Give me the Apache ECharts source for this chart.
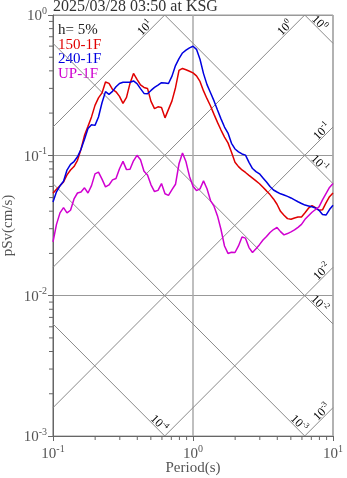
<!DOCTYPE html>
<html><head><meta charset="utf-8">
<script src="https://cdn.jsdelivr.net/npm/echarts@6/dist/echarts.min.js"></script>
<style>html,body{margin:0;padding:0;background:#fff}#c{width:347px;height:478px}</style>
</head><body><div id="c"></div>
<script>
const titleText = '2025/03/28 03:50 at KSG';
const dampingText = 'h= 5%';
const seriesNames = ['150-1F', '240-1F', 'UP-1F'];
const seriesColors = ['#e00000', '#0000e0', '#d000d0'];
const xAxisName = 'Period(s)';
const yAxisName = 'pSv(cm/s)';

const periods = [0.1,0.1059,0.1122,0.1189,0.1259,0.1334,0.1413,0.1496,0.1585,0.1679,
 0.1778,0.1884,0.1995,0.2113,0.2239,0.2371,0.2512,0.2661,0.2818,0.2985,
 0.3162,0.335,0.3548,0.3758,0.3981,0.4217,0.4467,0.4732,0.5012,0.5309,
 0.5623,0.5957,0.631,0.6683,0.7079,0.7499,0.7943,0.8414,0.8913,0.9441,
 1.0,1.059,1.122,1.189,1.259,1.334,1.413,1.496,1.585,1.679,
 1.778,1.884,1.995,2.113,2.239,2.371,2.512,2.661,2.818,2.985,
 3.162,3.35,3.548,3.758,3.981,4.217,4.467,4.732,5.012,5.309,
 5.623,5.957,6.31,6.683,7.079,7.499,7.943,8.414,8.913,9.441,10];

const sv150 = [0.0536,0.0573,0.0608,0.0646,0.0726,0.0786,0.0832,0.0921,0.1104,0.1388,
 0.1608,0.1879,0.2269,0.2566,0.2785,0.3334,0.3254,0.2949,0.2836,0.263,
 0.2345,0.2587,0.3254,0.3835,0.3474,0.3176,0.3048,0.2998,0.2423,0.215,
 0.2215,0.2196,0.1849,0.2126,0.2443,0.3033,0.4027,0.4161,0.4074,0.3974,
 0.3867,0.368,0.3362,0.2877,0.2533,0.2248,0.1958,0.1717,0.1514,0.1349,
 0.1227,0.105,0.0894,0.0831,0.0787,0.0755,0.072,0.0688,0.0657,0.0627,
 0.0592,0.0558,0.0525,0.0489,0.0448,0.0399,0.0374,0.0354,0.035,0.0358,
 0.0364,0.0364,0.039,0.042,0.0438,0.0424,0.0406,0.0409,0.0458,0.0507,0.0539];

const sv240 = [0.0465,0.055,0.0607,0.0653,0.0785,0.0863,0.0903,0.0976,0.1104,0.1304,
 0.1551,0.1651,0.1635,0.1876,0.2368,0.2845,0.2718,0.2854,0.3078,0.3254,
 0.3319,0.3314,0.3319,0.339,0.3243,0.2988,0.2763,0.2749,0.2901,0.3048,
 0.3165,0.3292,0.3281,0.3248,0.3668,0.4363,0.4894,0.5364,0.5617,0.5832,
 0.5987,0.569,0.4838,0.3823,0.3191,0.2795,0.2443,0.2101,0.1819,0.159,
 0.1441,0.1217,0.111,0.1059,0.1023,0.1003,0.0892,0.0805,0.0766,0.0738,
 0.069,0.0645,0.0599,0.0566,0.0548,0.0532,0.0521,0.051,0.0497,0.0482,
 0.0467,0.0454,0.0442,0.0436,0.043,0.0422,0.0406,0.0379,0.0375,0.0411,0.0441];

const svUP = [0.0242,0.0322,0.0389,0.0424,0.0389,0.0406,0.0489,0.0539,0.0548,0.0587,
 0.0539,0.0608,0.0738,0.076,0.0677,0.0596,0.0615,0.0668,0.0683,0.0803,
 0.0906,0.0791,0.0795,0.0914,0.1,0.0929,0.077,0.0724,0.0616,0.0552,
 0.0563,0.0629,0.0532,0.0518,0.0569,0.0622,0.0871,0.1038,0.0899,0.0708,
 0.0603,0.0561,0.0577,0.0658,0.0578,0.0476,0.0434,0.037,0.0296,0.0226,
 0.02,0.0204,0.0203,0.0226,0.0262,0.0257,0.022,0.0203,0.0216,0.0231,
 0.0249,0.0264,0.0282,0.0296,0.0306,0.0286,0.0271,0.0277,0.0285,0.0294,
 0.0307,0.0322,0.035,0.0371,0.0393,0.0411,0.0429,0.0481,0.0534,0.059,0.0629];

// tripartite guide levels
const accelLevels = [1e1, 1e0, 1e-1, 1e-2, 1e-3];   // cm/s^2
const dispLevels = [1e0, 1e-1, 1e-2, 1e-3, 1e-4];   // cm

const X_MIN = 0.1, X_MAX = 10, Y_MIN = 0.001, Y_MAX = 1;
const FF = "'Liberation Serif', 'DejaVu Serif', serif";
const TXT = '#555';

function supText(v) { return '{b|10}{s|' + Math.round(Math.log10(v)) + '}'; }

const TW = 2 * Math.PI;
const guides = [];
accelLevels.forEach(A => {
  const lo = Math.max(X_MIN, Y_MIN * TW / A), hi = Math.min(X_MAX, Y_MAX * TW / A);
  if (lo < hi) guides.push({kind: 'A', level: A, pts: [[lo, A * lo / TW], [hi, A * hi / TW]], endTop: Y_MAX * TW / A <= X_MAX});
});
dispLevels.forEach(D => {
  const lo = Math.max(X_MIN, TW * D / Y_MAX), hi = Math.min(X_MAX, TW * D / Y_MIN);
  if (lo < hi) guides.push({kind: 'D', level: D, pts: [[lo, TW * D / lo], [hi, TW * D / hi]], endRight: TW * D / Y_MIN >= X_MAX});
});

const minorTicks = [];
for (let e = -1; e < 1; e++) for (let k = 2; k <= 9; k++) minorTicks.push([k * Math.pow(10, e), Y_MIN, 0]);
for (let e = -3; e < 0; e++) for (let k = 2; k <= 9; k++) minorTicks.push([X_MIN, k * Math.pow(10, e), 1]);

const seriesData = [sv150, sv240, svUP];

const series = [];
guides.forEach(g => series.push({
  type: 'line', data: g.pts, showSymbol: false, silent: true, z: 1,
  lineStyle: {color: '#8a8a8a', width: 1}
}));
seriesData.forEach((arr, i) => series.push({
  type: 'line', name: seriesNames[i], data: periods.map((t, j) => [t, arr[j]]),
  showSymbol: false, z: 5, lineStyle: {color: seriesColors[i], width: 1.5}, itemStyle: {color: seriesColors[i]}
}));
series.push({
  type: 'custom', data: minorTicks, silent: true, clip: false, encode: {x: 0, y: 1}, z: 6,
  renderItem: (params, api) => {
    const p = api.coord([api.value(0), api.value(1)]);
    const isY = api.value(2) === 1;
    return {type: 'line', shape: isY ? {x1: p[0] - 4, y1: p[1], x2: p[0], y2: p[1]} : {x1: p[0], y1: p[1], x2: p[0], y2: p[1] + 4},
      style: {stroke: '#666', lineWidth: 1}};
  }
});

const richAxis = {
  b: {fontSize: 15, fontFamily: FF, color: TXT, lineHeight: 18, verticalAlign: 'bottom'},
  s: {fontSize: 10, fontFamily: FF, color: TXT, lineHeight: 10, verticalAlign: 'top'}
};

const legendGraphics = [
  {id: 'title', type: 'text', x: 53, y: -1, style: {text: titleText, font: '16px ' + FF, fill: '#333'}},
  {id: 'h', type: 'text', x: 58, y: 30, style: {text: dampingText, font: '15px ' + FF, fill: '#222', verticalAlign: 'middle'}}
];
seriesNames.forEach((n, i) => legendGraphics.push({id: 'lg' + i, type: 'text', x: 58, y: 45 + i * 14.3,
  style: {text: n, font: '15px ' + FF, fill: seriesColors[i], verticalAlign: 'middle'}}));

const chart = echarts.init(document.getElementById('c'), null, {renderer: 'canvas'});
chart.setOption({
  animation: false,
  backgroundColor: '#fff',
  grid: {left: 53, right: 14, top: 15, bottom: 42, show: true, borderColor: '#999', borderWidth: 1,
    containLabel: false, outerBoundsMode: 'none'},
  xAxis: {
    type: 'log', logBase: 10, min: X_MIN, max: X_MAX,
    name: xAxisName, nameLocation: 'middle', nameGap: 25, nameMoveOverlap: false,
    nameTextStyle: {fontSize: 15, fontFamily: FF, color: TXT},
    axisLine: {lineStyle: {color: '#666'}},
    axisTick: {show: true, length: 5, inside: false, lineStyle: {color: '#666'}},
    axisLabel: {margin: 8, formatter: supText, rich: richAxis},
    splitLine: {show: true, lineStyle: {color: '#aaa', width: 1.5}}
  },
  yAxis: {
    type: 'log', logBase: 10, min: Y_MIN, max: Y_MAX,
    name: yAxisName, nameLocation: 'middle', nameGap: 37, nameMoveOverlap: false,
    nameTextStyle: {fontSize: 15, fontFamily: FF, color: TXT},
    axisLine: {lineStyle: {color: '#666'}},
    axisTick: {show: true, length: 5, inside: false, lineStyle: {color: '#666'}},
    axisLabel: {margin: 6, formatter: supText, rich: richAxis},
    splitLine: {show: true, lineStyle: {color: '#999', width: 1}}
  },
  graphic: {elements: legendGraphics},
  series: series
});

// labels of the tripartite guide lines
const labRich = {
  b: {fontSize: 12, fontFamily: FF, color: '#666', lineHeight: 14, verticalAlign: 'bottom'},
  s: {fontSize: 8, fontFamily: FF, color: '#666', lineHeight: 8, verticalAlign: 'top'}
};
const r2 = Math.SQRT1_2;
const guideLabels = guides.map((g, i) => {
  const end = chart.convertToPixel({gridIndex: 0}, g.pts[1]);
  let cx, cy, rot;
  if (g.kind === 'A') {
    const along = g.endTop ? 23 : 11, perp = 5.5;
    cx = end[0] - along * r2 - perp * r2; cy = end[1] + along * r2 - perp * r2; rot = Math.PI / 4;
  } else {
    const along = g.endRight ? 24 : 13, perp = 5.5;
    cx = end[0] - along * r2 + perp * r2; cy = end[1] - along * r2 - perp * r2; rot = -Math.PI / 4;
  }
  return {id: 'gl' + i, type: 'text', x: cx, y: cy, rotation: rot, z: 10,
    style: {text: supText(g.level), rich: labRich, align: 'center', verticalAlign: 'middle'}};
});
chart.setOption({graphic: {elements: guideLabels}});
</script>
</body></html>
